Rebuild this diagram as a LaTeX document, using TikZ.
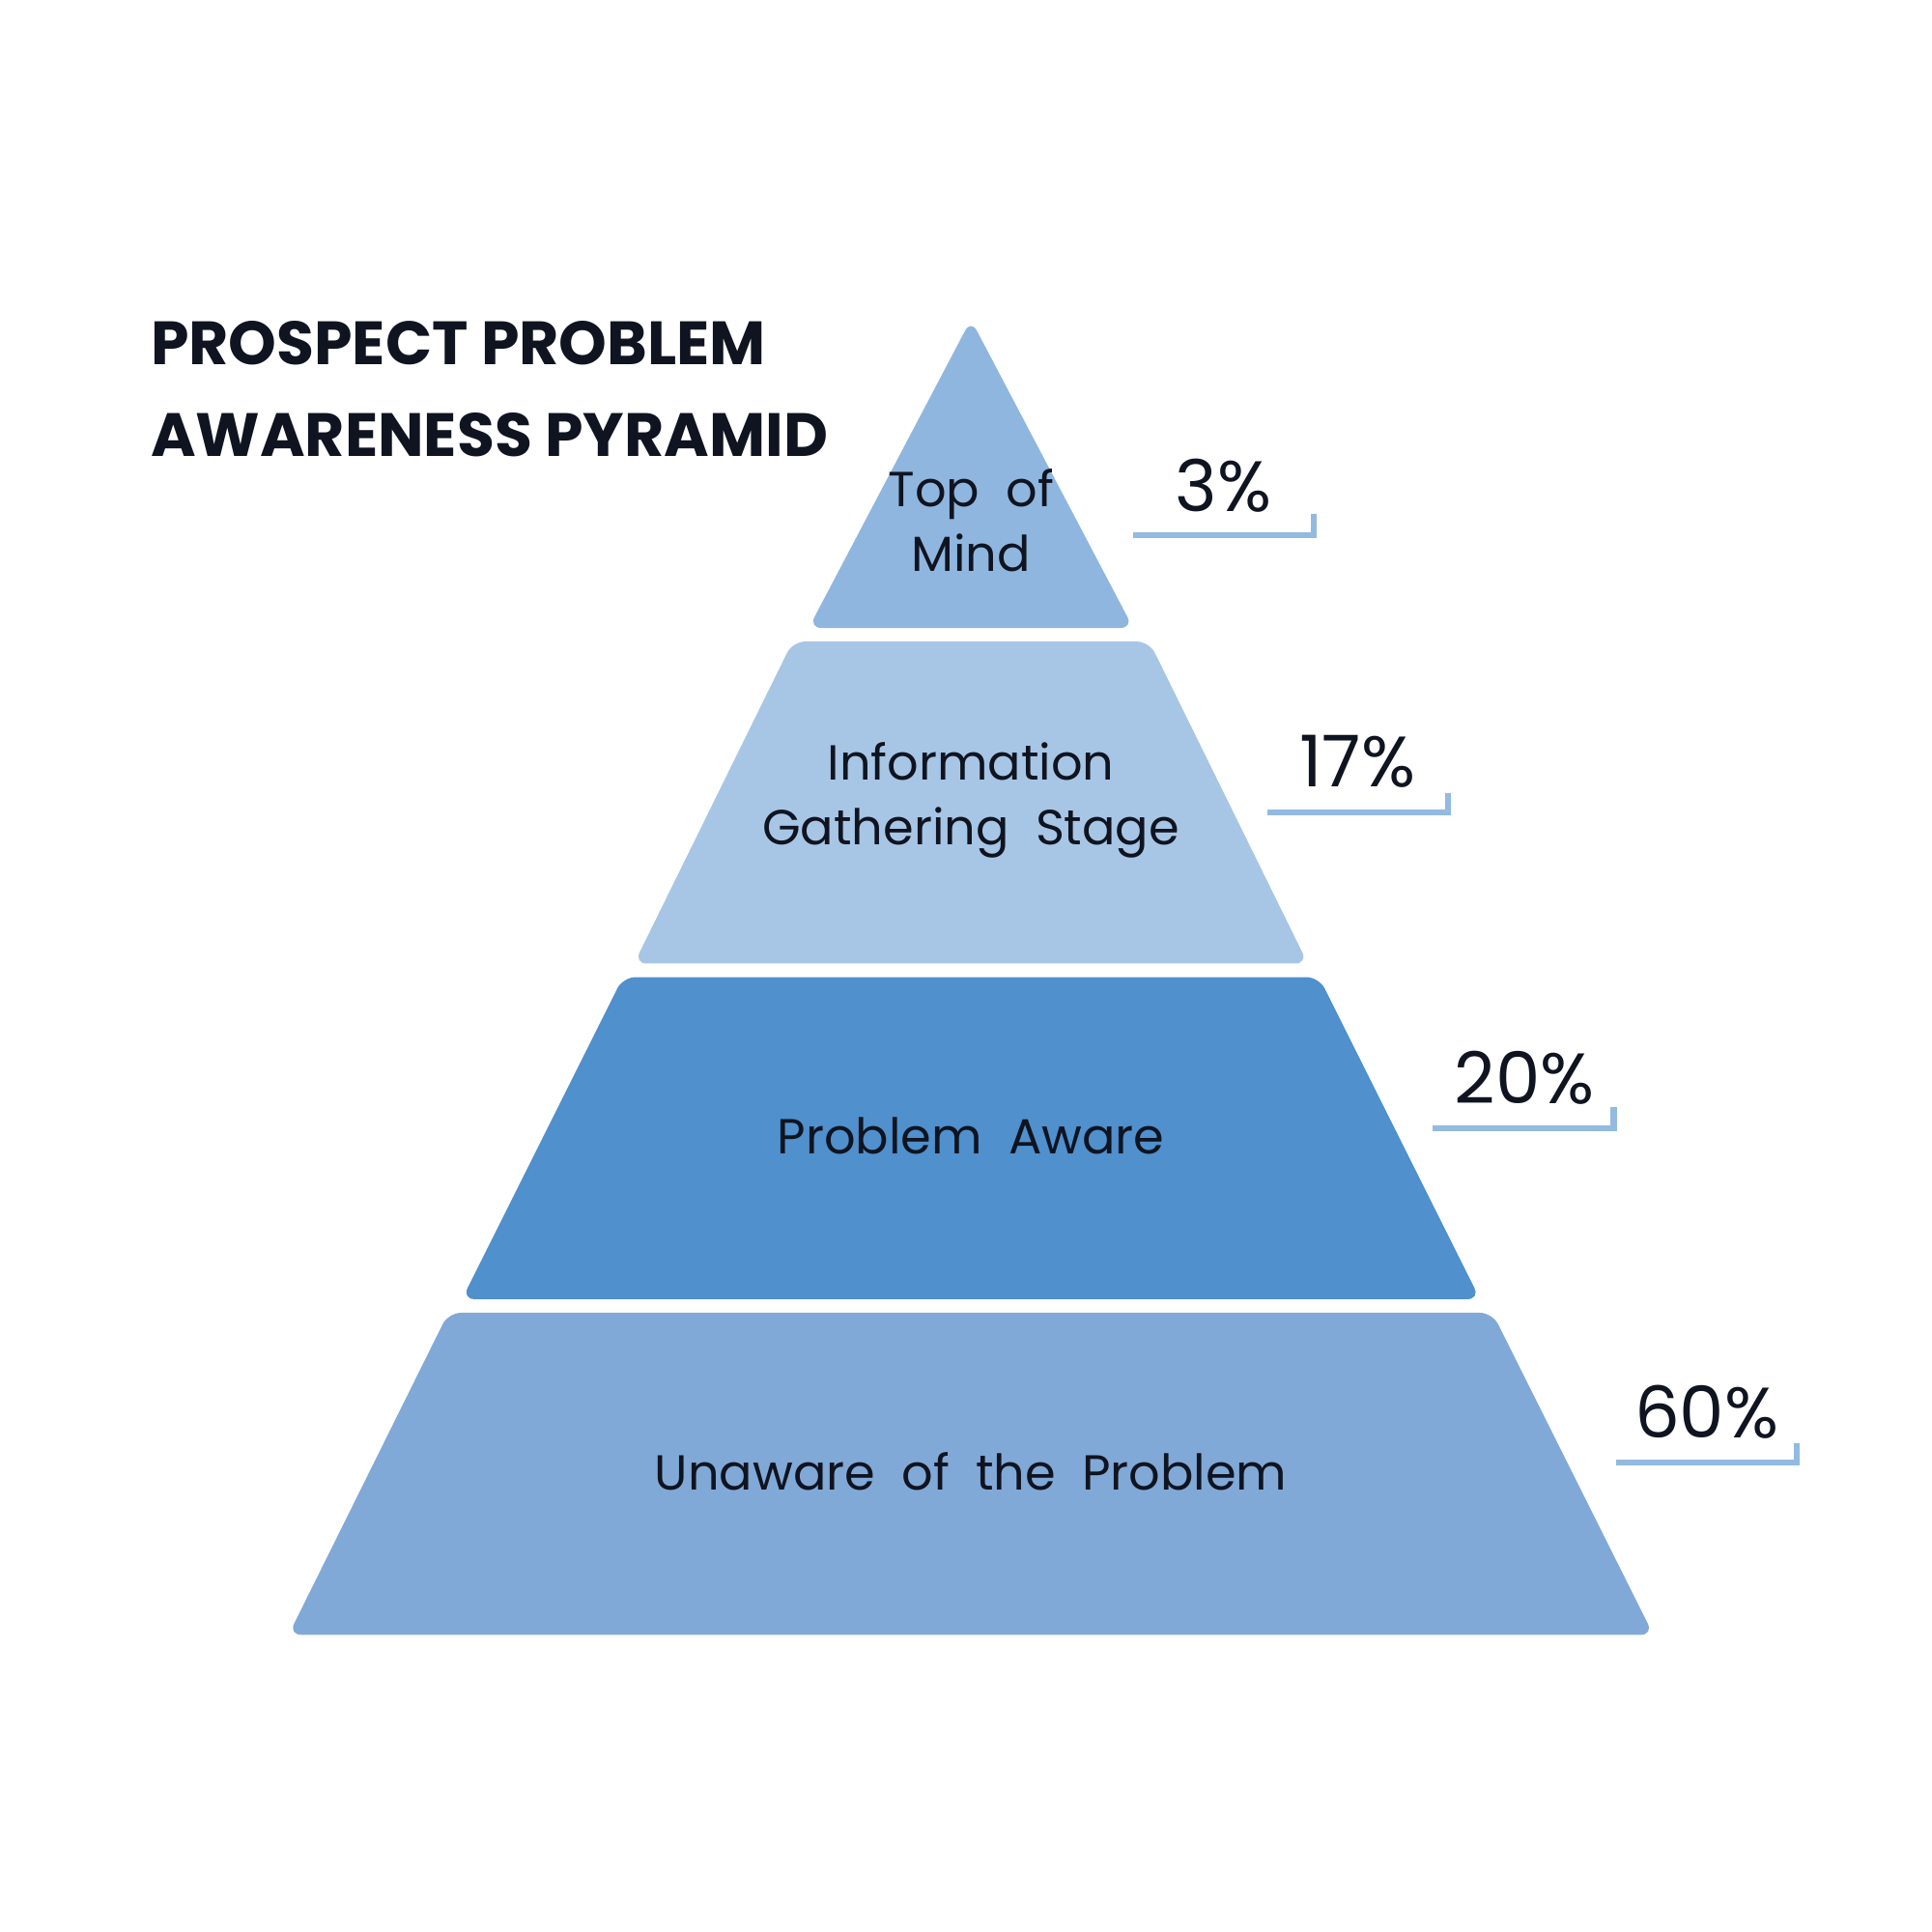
\documentclass[tikz,border=0pt]{standalone}
\usepackage{fontspec}
\setmainfont{Poppins}
\usepackage{tikz}
\definecolor{tierA}{HTML}{8FB6DF}
\definecolor{tierB}{HTML}{A7C6E5}
\definecolor{tierC}{HTML}{4F90CD}
\definecolor{tierD}{HTML}{81A9D7}
\definecolor{mark}{HTML}{93BAE0}
\definecolor{ink}{HTML}{0F1420}
\tikzset{
  tier/.style={rounded corners=0.13cm},
  lbl/.style={text=ink, font=\fontsize{14.5}{19}\selectfont, align=center},
  pct/.style={text=ink, font=\fontsize{21}{24}\selectfont},
  bar/.style={draw=mark, line width=1.8pt}
}
\begin{document}
\begin{tikzpicture}[x=0.01282cm,y=-0.01282cm]
\useasboundingbox (0,0) rectangle (1560,1560);
% pyramid tiers
\fill [tierA,tier] (784,258) -- (915,507) -- (653,507) -- cycle;
\fill [tierB,tier] (640,518) -- (928,518) -- (1056,778) -- (512,778) -- cycle;
\fill [tierC,tier] (503,789) -- (1065,789) -- (1195,1049) -- (373,1049) -- cycle;
\fill [tierD,tier] (362,1060) -- (1205,1060) -- (1335,1320) -- (233,1320) -- cycle;
% labels
\node [lbl] (top) at (784,420) {Top\ \ of\\Mind};
\node [lbl] (info) at (784,646) {Information\\Gathering\ \ Stage};
\node [lbl] (aware) at (784,917) {Problem\ \ Aware};
\node [lbl] (unaware) at (784,1188) {Unaware\ \ of\ \ the\ \ Problem};
\node [anchor=north west, text=ink, font=\fontsize{18}{27}\selectfont\bfseries, align=left] (title) at (112,250) {PROSPECT PROBLEM\\AWARENESS PYRAMID};
% percentages
\node [pct] (p3) at (988,392) {3\%};
\node [pct] (p17) at (1096,615) {17\%};
\node [pct] (p20) at (1231,870) {20\%};
\node [pct] (p60) at (1378,1140) {60\%};
\draw [bar] (915,432) -| (1061,415);
\draw [bar] (1023,656) -| (1169,640);
\draw [bar] (1157,911) -| (1303,894);
\draw [bar] (1305,1181) -| (1451,1165);
\end{tikzpicture}
\end{document}
